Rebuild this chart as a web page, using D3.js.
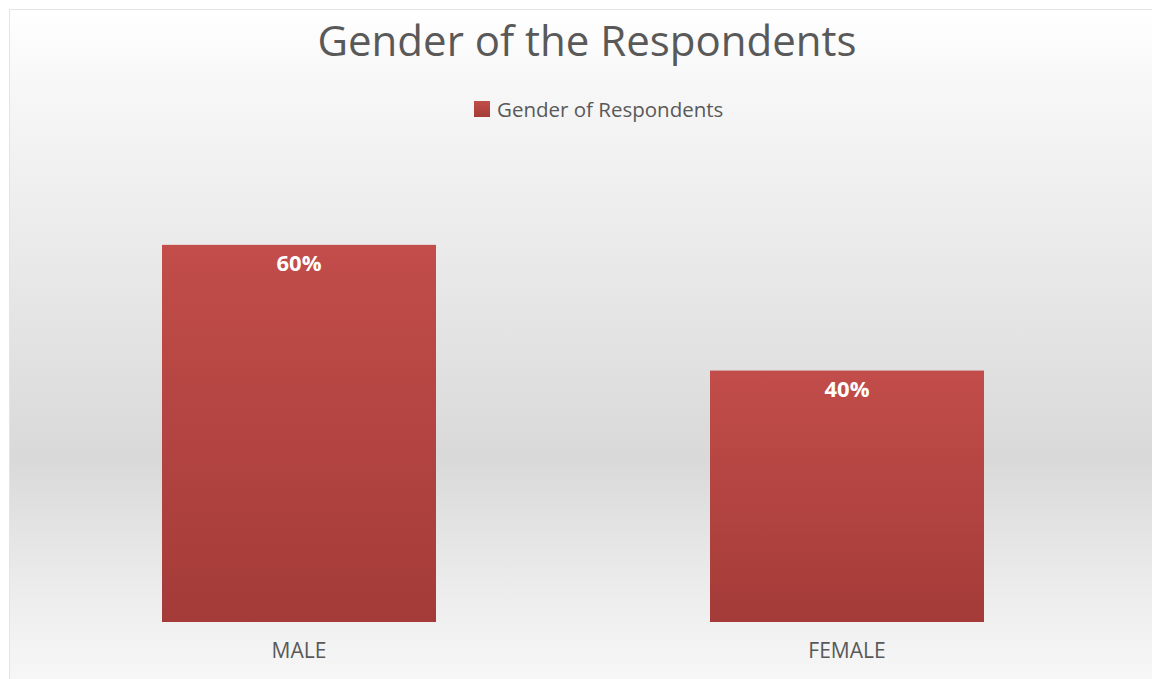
<!DOCTYPE html>
<html><head><meta charset="utf-8">
<script src="https://cdn.jsdelivr.net/npm/d3@7"></script>
<style>html,body{margin:0;padding:0;background:#fff;overflow:hidden}</style>
</head><body>
<svg id="c" width="1152" height="679"></svg>
<script>
const categories = ["MALE", "FEMALE"];
const values = [0.60, 0.40];
const valueLabels = ["60%", "40%"];
const seriesName = "Gender of Respondents";
const title = "Gender of the Respondents";

const svg = d3.select("#c");
const defs = svg.append("defs");
const bg = defs.append("linearGradient").attr("id","bg").attr("x1",0).attr("y1",0).attr("x2",0).attr("y2",1);
[[0,"#ffffff"],[0.1,"#f8f8f8"],[0.66,"#d9d9d9"],[0.85,"#ececec"],[1,"#f8f8f8"]].forEach(([o,c])=>bg.append("stop").attr("offset",o).attr("stop-color",c));
const bar = defs.append("linearGradient").attr("id","bar").attr("x1",0).attr("y1",0).attr("x2",0).attr("y2",1);
[[0,"#c24d4a"],[1,"#a43b38"]].forEach(([o,c])=>bar.append("stop").attr("offset",o).attr("stop-color",c));

svg.append("rect").attr("x",9.5).attr("y",9.5).attr("width",1150).attr("height",680)
  .attr("fill","url(#bg)").attr("stroke","#e4e4e4");

const x = d3.scaleBand().domain(categories).range([25,1121]).paddingInner(0.5).paddingOuter(0.25);
const y = d3.scaleLinear().domain([0,0.7]).range([622,182]);

svg.append("text").attr("x",587).attr("y",56).attr("text-anchor","middle")
  .attr("font-family","Open Sans").attr("font-size",42).attr("fill","#595959").text(title);

svg.append("rect").attr("x",474).attr("y",101).attr("width",16).attr("height",16).attr("fill","url(#bar)");
svg.append("text").attr("x",497).attr("y",117).attr("font-family","Open Sans").attr("font-size",20.5)
  .attr("fill","#595959").text(seriesName);

const data = categories.map((c,i)=>({c, v:values[i], l:valueLabels[i]}));
svg.selectAll("rect.bar").data(data).join("rect").attr("class","bar")
  .attr("x",d=>x(d.c)).attr("width",x.bandwidth())
  .attr("y",d=>y(d.v)).attr("height",d=>y(0)-y(d.v)).attr("fill","url(#bar)");

svg.selectAll("text.val").data(data).join("text").attr("class","val")
  .attr("x",d=>x(d.c)+x.bandwidth()/2).attr("y",d=>y(d.v)+26).attr("text-anchor","middle")
  .attr("font-family","Open Sans").attr("font-weight","bold").attr("font-size",22).attr("fill","#fff").text(d=>d.l);

const ax = svg.append("g").attr("transform","translate(0,622)").call(d3.axisBottom(x).tickSize(0).tickPadding(21));
ax.select(".domain").remove();
ax.selectAll("text").attr("font-family","Open Sans").attr("font-size",21).attr("fill","#595959");
</script>
</body></html>
